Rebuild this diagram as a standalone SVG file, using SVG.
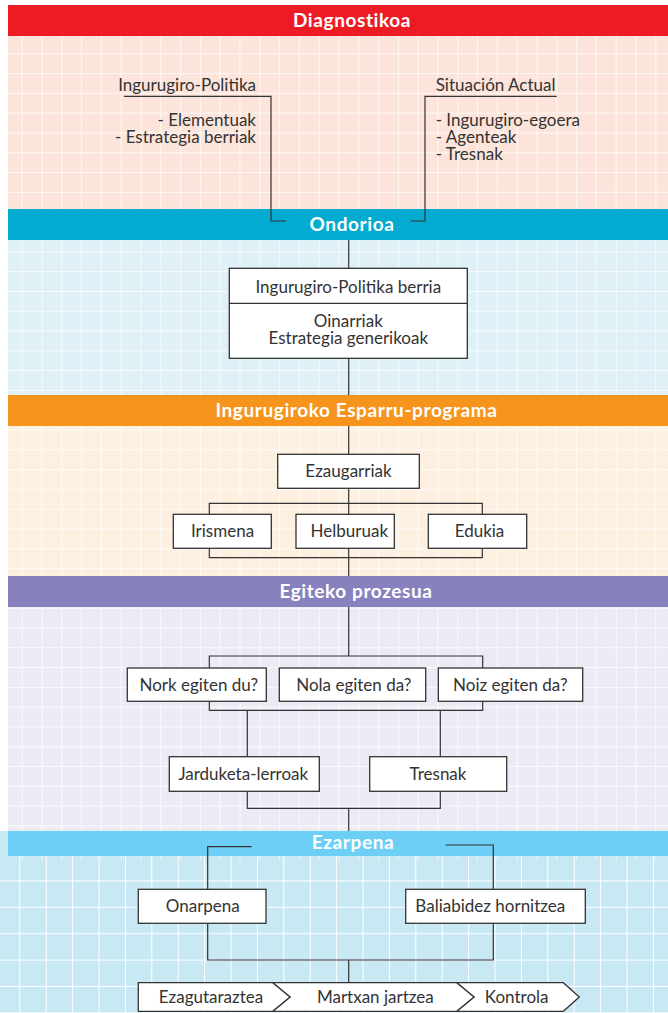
<svg xmlns="http://www.w3.org/2000/svg" width="668" height="1013" viewBox="0 0 668 1013">
<style>
.band{font-family:"Lato","Open Sans",sans-serif;font-weight:bold;font-size:19px;letter-spacing:0.6px;fill:#ffffff;text-anchor:middle}
.t{font-family:"Lato","Liberation Sans",sans-serif;font-size:17px;fill:#333333}
.m{text-anchor:middle}
.e{text-anchor:end}
.box{fill:#ffffff;stroke:#333333;stroke-width:1.3}
.ln{fill:none;stroke:#333333;stroke-width:1.2}
</style>
<defs>
<pattern id="g1" patternUnits="userSpaceOnUse" x="21.7" y="53.3" width="19.8" height="19.8">
<path d="M0,0V19.8M0,0H19.8" stroke="#ffffff" stroke-width="1.4" fill="none"/>
</pattern>
<pattern id="g2" patternUnits="userSpaceOnUse" x="19.3" y="854" width="26.4" height="26.4">
<path d="M0,0V26.4M0,0H26.4" stroke="#ffffff" stroke-width="2" fill="none"/>
</pattern>
<pattern id="tk" patternUnits="userSpaceOnUse" x="21.7" y="0" width="19.8" height="19.8">
<path d="M0,0V19.8" stroke="#ffffff" stroke-width="1.2" fill="none"/>
</pattern>
</defs>
<rect width="668" height="1013" fill="#ffffff"/>
<!-- section backgrounds -->
<rect x="8" y="36" width="660" height="173" fill="#fce4da"/>
<rect x="8" y="240" width="660" height="155" fill="#dff0f6"/>
<rect x="8" y="426" width="660" height="150" fill="#fdf0e1"/>
<rect x="8" y="607" width="660" height="224" fill="#ecebf5"/>
<rect x="0" y="831" width="668" height="182" fill="#c8e8f3"/>
<rect x="8" y="36" width="660" height="173" fill="url(#g1)"/>
<rect x="8" y="240" width="660" height="155" fill="url(#g1)"/>
<rect x="8" y="426" width="660" height="150" fill="url(#g1)"/>
<rect x="8" y="607" width="660" height="224" fill="url(#g1)"/>
<rect x="0" y="856" width="668" height="157" fill="url(#g2)"/>
<rect x="8" y="856" width="660" height="5" fill="url(#tk)"/>
<!-- connectors -->
<g id="connectors" class="ln">
<path d="M124,96.3H271V221H286"/>
<path d="M556.7,96.3H425V221H410.7"/>
<path d="M348.7,240V268.3M348.7,358.3V395M348.7,426V454.3M348.7,488.3V514.3M348.7,548.3V576M348.7,607V656"/>
<path d="M209.3,514.3V503.3H482.3V514.3M209.3,548.3V557.7H482.3V548.3"/>
<path d="M209.3,668V656H482.7V668M209.3,701.3V710.3H482.7V701.3"/>
<path d="M247.3,710.3V756.7M440.3,710.3V756.7"/>
<path d="M247.3,791.3V808.3H440.3V791.3M348.7,808.3V831"/>
<path d="M251.7,846.7H207.7V889.3M445.7,845H493.3V889.3"/>
<path d="M207.7,923.3V960H493.3V923.3M348.7,960V982.7"/>
</g>
<!-- bands -->
<g id="band-diagnostikoa">
<rect x="8" y="5" width="660" height="31" fill="#ed1c24"/>
<text class="band" x="352" y="27">Diagnostikoa</text>
</g>
<g id="band-ondorioa">
<rect x="8" y="209" width="660" height="31" fill="#02abcf"/>
<text class="band" x="352" y="231">Ondorioa</text>
</g>
<g id="band-esparru">
<rect x="8" y="395" width="660" height="31" fill="#f7941e"/>
<text class="band" x="356.5" y="417">Ingurugiroko Esparru-programa</text>
</g>
<g id="band-egiteko">
<rect x="8" y="576" width="660" height="31" fill="#8781bd"/>
<text class="band" x="356" y="598">Egiteko prozesua</text>
</g>
<g id="band-ezarpena">
<rect x="8" y="831" width="660" height="25" fill="#6dcff6"/>
<text class="band" x="353" y="849">Ezarpena</text>
</g>
<!-- corner connectors drawn over bands -->
<g id="connectors-over" class="ln">
<path d="M271,209V221H286"/>
<path d="M425,209V221H410.7"/>
<path d="M251.7,846.7H207.7V856"/>
<path d="M445.7,845H493.3V856"/>
</g>
<!-- nodes -->
<g id="node-ingurugiro-politika">
<text class="t e" x="256" y="91">Ingurugiro-Politika</text>
<text class="t e" x="256" y="125.5">- Elementuak</text>
<text class="t e" x="256" y="142.5">- Estrategia berriak</text>
</g>
<g id="node-situacion-actual">
<text class="t" x="435.7" y="91">Situación Actual</text>
<text class="t" x="435.7" y="125.5">- Ingurugiro-egoera</text>
<text class="t" x="435.7" y="142.5">- Agenteak</text>
<text class="t" x="435.7" y="159.5">- Tresnak</text>
</g>
<g id="node-politika-berria">
<rect class="box" x="229.3" y="268.3" width="238" height="90"/>
<line class="ln" x1="229.3" y1="303.3" x2="467.3" y2="303.3"/>
<text class="t m" x="348.3" y="292.7">Ingurugiro-Politika berria</text>
<text class="t m" x="348.3" y="326.7">Oinarriak</text>
<text class="t m" x="348.3" y="344">Estrategia generikoak</text>
</g>
<g id="node-ezaugarriak">
<rect class="box" x="277.7" y="454.3" width="141.6" height="34"/>
<text class="t m" x="348.5" y="477">Ezaugarriak</text>
</g>
<g id="node-irismena">
<rect class="box" x="173.3" y="514.3" width="98" height="34"/>
<text class="t m" x="222.5" y="537">Irismena</text>
</g>
<g id="node-helburuak">
<rect class="box" x="296" y="514.3" width="98.3" height="34"/>
<text class="t m" x="349.3" y="537">Helburuak</text>
</g>
<g id="node-edukia">
<rect class="box" x="428.3" y="514.3" width="98.4" height="34"/>
<text class="t m" x="479.5" y="537">Edukia</text>
</g>
<g id="node-nork">
<rect class="box" x="127.3" y="668" width="139" height="33.3"/>
<text class="t m" x="198.8" y="690.5">Nork egiten du?</text>
</g>
<g id="node-nola">
<rect class="box" x="279.3" y="668" width="146.4" height="33.3"/>
<text class="t m" x="353.8" y="690.5">Nola egiten da?</text>
</g>
<g id="node-noiz">
<rect class="box" x="438.3" y="668" width="144.4" height="33.3"/>
<text class="t m" x="510.3" y="690.5">Noiz egiten da?</text>
</g>
<g id="node-jarduketa">
<rect class="box" x="169.3" y="756.7" width="150" height="34.6"/>
<text class="t m" x="243.3" y="779.5">Jarduketa-lerroak</text>
</g>
<g id="node-tresnak">
<rect class="box" x="369.7" y="756.7" width="137" height="34.6"/>
<text class="t m" x="438" y="779.5">Tresnak</text>
</g>
<g id="node-onarpena">
<rect class="box" x="138.3" y="889.3" width="127.7" height="34"/>
<text class="t m" x="202.8" y="912">Onarpena</text>
</g>
<g id="node-baliabidez">
<rect class="box" x="405.7" y="889.3" width="179.6" height="34"/>
<text class="t m" x="490.3" y="912">Baliabidez hornitzea</text>
</g>
<g id="node-kontrola">
<polygon class="box" points="456.7,982.7 563.3,982.7 579.3,997 563.3,1011.3 456.7,1011.3 474,997"/>
<text class="t m" x="516.7" y="1003">Kontrola</text>
</g>
<g id="node-martxan">
<polygon class="box" points="272.7,982.7 456.7,982.7 474,997 456.7,1011.3 272.7,1011.3 290,997"/>
<text class="t m" x="375.3" y="1003">Martxan jartzea</text>
</g>
<g id="node-ezagutaraztea">
<polygon class="box" points="138.3,982.7 272.7,982.7 290,997 272.7,1011.3 138.3,1011.3"/>
<text class="t m" x="211" y="1003">Ezagutaraztea</text>
</g>
</svg>
